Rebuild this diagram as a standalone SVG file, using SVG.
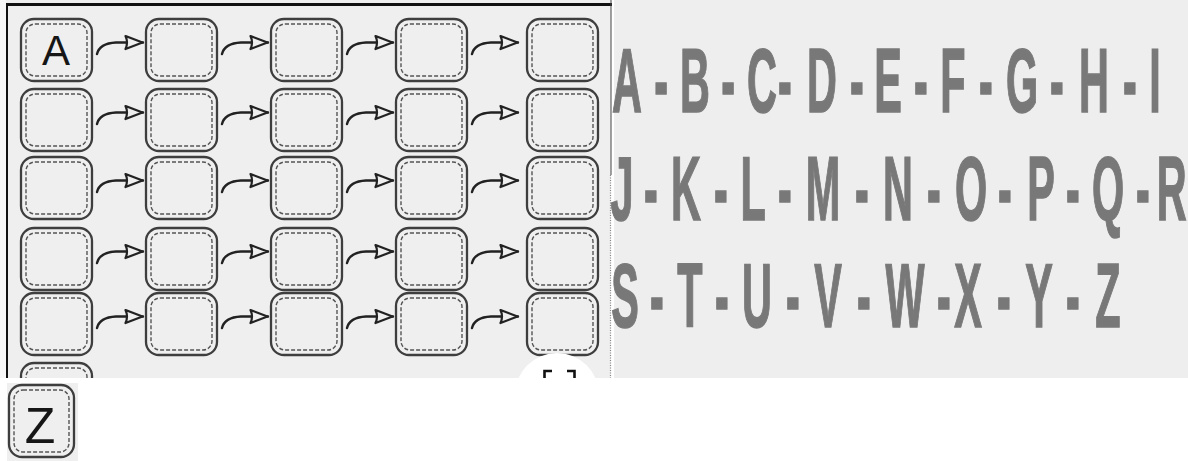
<svg xmlns="http://www.w3.org/2000/svg" width="1188" height="461" viewBox="0 0 1188 461">
<style>
.bo{fill:none;stroke:#3e3e3e;stroke-width:2.3}
.bi{fill:none;stroke:#555;stroke-width:1.4;stroke-dasharray:4 2}
.ar{fill:none;stroke:#222;stroke-width:2.4;stroke-linecap:round;marker-end:url(#ah)}
.hand{font-family:"Liberation Sans","DejaVu Sans",sans-serif;fill:#161616;text-anchor:middle}
.big{font-family:"Liberation Sans",Arial,sans-serif;font-weight:bold;font-size:90px;fill:#787878;stroke:#7a7a7a;stroke-width:1.6;text-anchor:middle}
</style>
<defs>
<marker id="ah" viewBox="0 0 20 16" refX="19" refY="8" markerWidth="20" markerHeight="16" markerUnits="userSpaceOnUse" orient="auto">
<path d="M1.5,1.5 L18.5,8 L1.5,14.5 Q4.5,8 1.5,1.5 Z" fill="#efefef" stroke="#222" stroke-width="2.2" stroke-linejoin="round"/>
</marker>
<g id="box"><rect class="bo" x="0" y="0" width="71" height="62" rx="13"/><rect class="bi" x="5" y="5" width="61" height="52" rx="9"/></g>
<clipPath id="lp"><rect x="0" y="0" width="611" height="378"/></clipPath>
</defs>
<rect x="0" y="0" width="1188" height="461" fill="#ffffff"/>
<rect x="0" y="0" width="611" height="378" fill="#efefef"/>
<rect x="0" y="0" width="6" height="378" fill="#f7f7f7"/>
<rect x="614" y="0" width="574" height="378" fill="#eeeeee"/>
<line x1="6" y1="4.5" x2="612" y2="4.5" stroke="#111" stroke-width="3"/>
<line x1="7" y1="4" x2="7" y2="378" stroke="#111" stroke-width="2"/>
<line x1="611" y1="0" x2="611" y2="175" stroke="#444" stroke-width="1"/>
<line x1="610.5" y1="175" x2="610.5" y2="378" stroke="#888" stroke-width="1.2" stroke-dasharray="1 1.5"/>

<g id="nodes" clip-path="url(#lp)">
<g id="n-1-1"><use href="#box" x="21" y="19"/><text class="hand" x="56" y="65" font-size="42">A</text></g>
<g id="n-1-2"><use href="#box" x="146" y="19"/></g>
<g id="n-1-3"><use href="#box" x="271" y="19"/></g>
<g id="n-1-4"><use href="#box" x="396" y="19"/></g>
<g id="n-1-5"><use href="#box" x="527" y="19"/></g>
<g id="n-2-1"><use href="#box" x="21" y="89"/></g>
<g id="n-2-2"><use href="#box" x="146" y="89"/></g>
<g id="n-2-3"><use href="#box" x="271" y="89"/></g>
<g id="n-2-4"><use href="#box" x="396" y="89"/></g>
<g id="n-2-5"><use href="#box" x="527" y="89"/></g>
<g id="n-3-1"><use href="#box" x="21" y="157"/></g>
<g id="n-3-2"><use href="#box" x="146" y="157"/></g>
<g id="n-3-3"><use href="#box" x="271" y="157"/></g>
<g id="n-3-4"><use href="#box" x="396" y="157"/></g>
<g id="n-3-5"><use href="#box" x="527" y="157"/></g>
<g id="n-4-1"><use href="#box" x="21" y="228"/></g>
<g id="n-4-2"><use href="#box" x="146" y="228"/></g>
<g id="n-4-3"><use href="#box" x="271" y="228"/></g>
<g id="n-4-4"><use href="#box" x="396" y="228"/></g>
<g id="n-4-5"><use href="#box" x="527" y="228"/></g>
<g id="n-5-1"><use href="#box" x="21" y="293"/></g>
<g id="n-5-2"><use href="#box" x="146" y="293"/></g>
<g id="n-5-3"><use href="#box" x="271" y="293"/></g>
<g id="n-5-4"><use href="#box" x="396" y="293"/></g>
<g id="n-5-5"><use href="#box" x="527" y="293"/></g>
<g id="n-6-1"><use href="#box" x="21" y="363"/></g>
</g>

<g id="connectors">
<path class="ar" d="M97,54 C99,46 106,43 116,42.5 L143,42.5"/>
<path class="ar" d="M222,54 C224,46 231,43 241,42.5 L268,42.5"/>
<path class="ar" d="M347,54 C349,46 356,43 366,42.5 L393,42.5"/>
<path class="ar" d="M472,54 C474,46 481,43 491,42.5 L518,42.5"/>
<path class="ar" d="M97,124 C99,116 106,113 116,112.5 L143,112.5"/>
<path class="ar" d="M222,124 C224,116 231,113 241,112.5 L268,112.5"/>
<path class="ar" d="M347,124 C349,116 356,113 366,112.5 L393,112.5"/>
<path class="ar" d="M472,124 C474,116 481,113 491,112.5 L518,112.5"/>
<path class="ar" d="M97,192 C99,184 106,181 116,180.5 L143,180.5"/>
<path class="ar" d="M222,192 C224,184 231,181 241,180.5 L268,180.5"/>
<path class="ar" d="M347,192 C349,184 356,181 366,180.5 L393,180.5"/>
<path class="ar" d="M472,192 C474,184 481,181 491,180.5 L518,180.5"/>
<path class="ar" d="M97,263 C99,255 106,252 116,251.5 L143,251.5"/>
<path class="ar" d="M222,263 C224,255 231,252 241,251.5 L268,251.5"/>
<path class="ar" d="M347,263 C349,255 356,252 366,251.5 L393,251.5"/>
<path class="ar" d="M472,263 C474,255 481,252 491,251.5 L518,251.5"/>
<path class="ar" d="M97,328 C99,320 106,317 116,316.5 L143,316.5"/>
<path class="ar" d="M222,328 C224,320 231,317 241,316.5 L268,316.5"/>
<path class="ar" d="M347,328 C349,320 356,317 366,316.5 L393,316.5"/>
<path class="ar" d="M472,328 C474,320 481,317 491,316.5 L518,316.5"/>
</g>

<g id="overlay" clip-path="url(#lp)">
<circle cx="557" cy="395" r="42" fill="#ffffff"/>
<path d="M552,371 L544.5,371 L544.5,380 M567,371 L574.5,371 L574.5,380" fill="none" stroke="#111" stroke-width="2.6"/>
</g>

<g id="z-card">
<rect x="7" y="383" width="71" height="78" fill="#efefef"/>
<rect class="bo" x="9" y="385" width="65" height="72" rx="13"/>
<rect class="bi" x="14" y="390" width="55" height="62" rx="9"/>
<text class="hand" x="40" y="443" font-size="50">Z</text>
</g>

<g id="alphabet" transform="matrix(0.46 0 0 1 0 0)">
<text class="big" y="112" x="1363 1437 1511 1583 1656.5 1706.5 1787 1863 1930.4 2002.2 2071.7 2143.5 2221.7 2297.8 2378.3 2456.5 2510.9">A-B-C-D-E-F-G-H-I</text>
<text class="big" y="220" x="1352.2 1415.2 1491.3 1567.4 1637 1706.5 1789.1 1873.9 1952.2 2030.4 2110.9 2184.8 2263 2332.6 2408.7 2484.8 2547">J-K-L-M-N-O-P-Q-R</text>
<text class="big" y="327" x="1358.7 1428.3 1500 1569.6 1645.7 1723.9 1800 1878.3 1967.4 2052.2 2104.3 2182.6 2258.7 2332.6 2408.7">S-T-U-V-W-X-Y-Z</text>
</g>
</svg>
